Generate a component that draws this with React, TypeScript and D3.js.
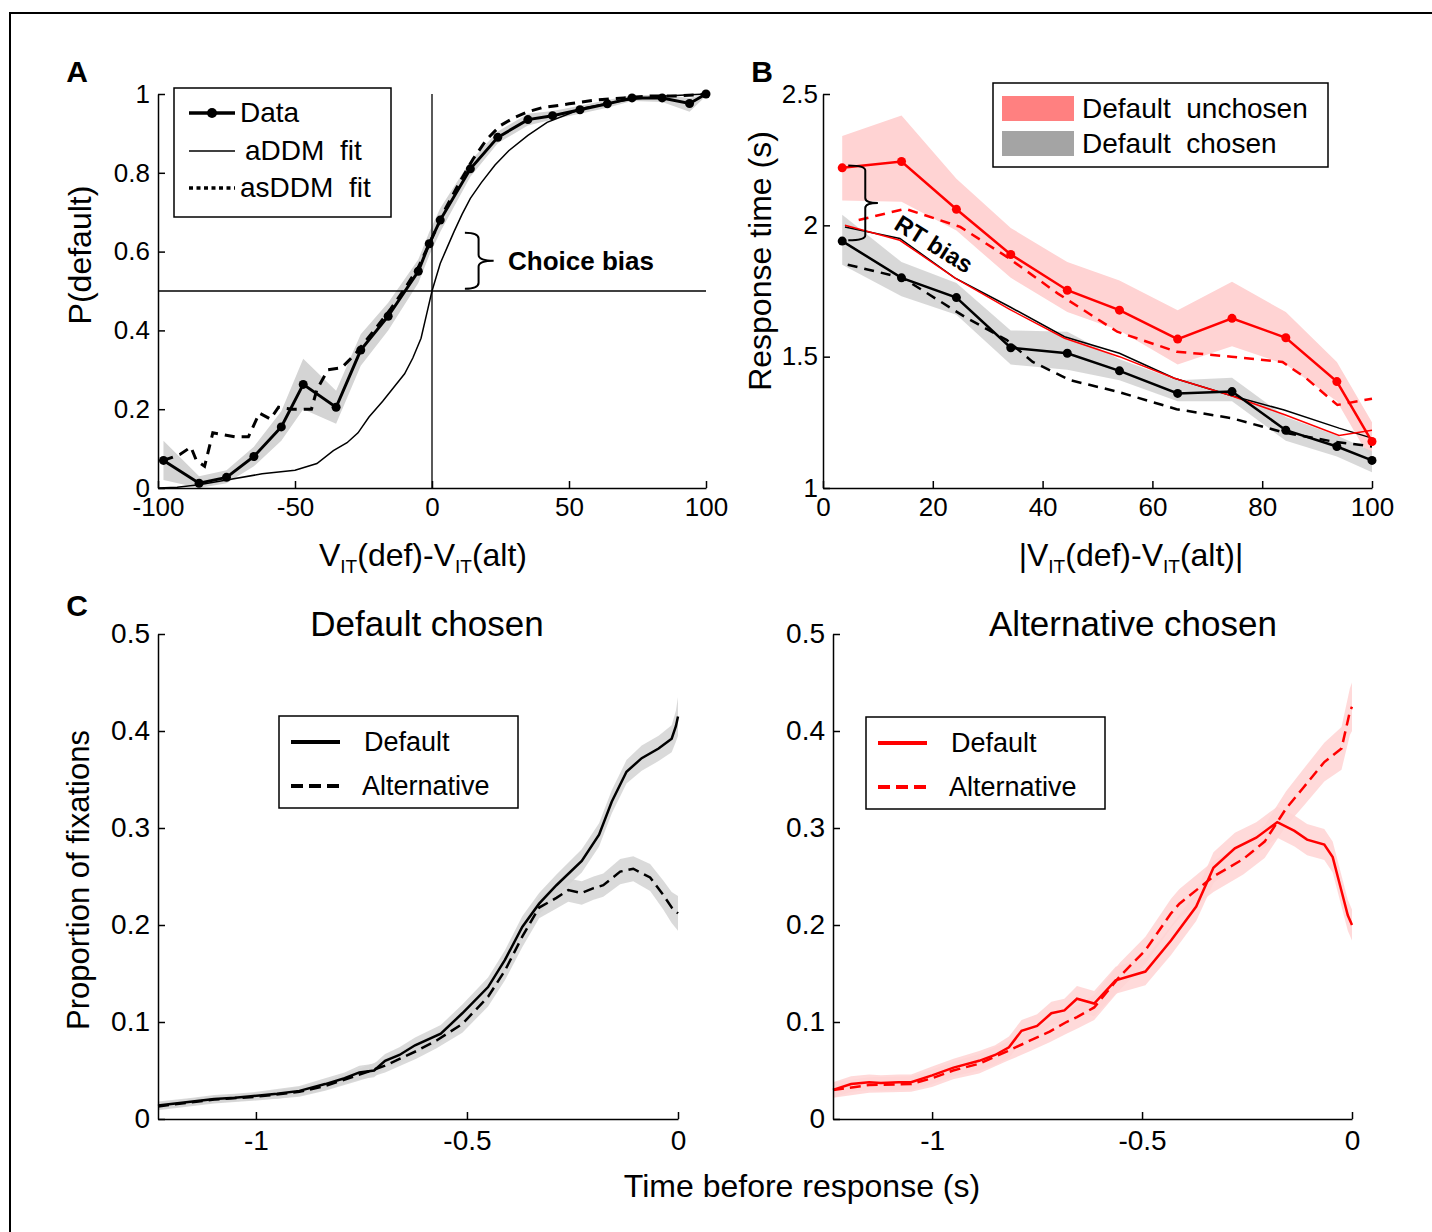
import { useEffect, useRef } from 'react';
import * as d3 from 'd3';

const FONT = '"Liberation Sans", Arial, Helvetica, sans-serif';

// ---------- Panel A: P(default) vs value difference ----------
const aTicksX = [-100, -50, 0, 50, 100];
const aTicksY = [0, 0.2, 0.4, 0.6, 0.8, 1];
const aDataX = [-98, -85, -75, -65, -55, -47, -35, -26, -16, -5, -1, 3, 14, 24, 35, 44, 54, 64, 73, 84, 94, 100];
const aDataY = [0.07, 0.012, 0.027, 0.08, 0.155, 0.263, 0.205, 0.35, 0.436, 0.55, 0.62, 0.68, 0.81, 0.89, 0.935, 0.945, 0.96, 0.975, 0.99, 0.99, 0.976, 1.0];
const aDataLo = [0.02, 0.0, 0.012, 0.055, 0.12, 0.2, 0.163, 0.31, 0.4, 0.52, 0.59, 0.65, 0.79, 0.875, 0.92, 0.935, 0.95, 0.965, 0.982, 0.98, 0.955, 0.995];
const aDataHi = [0.12, 0.03, 0.045, 0.105, 0.195, 0.328, 0.247, 0.39, 0.47, 0.58, 0.65, 0.71, 0.83, 0.905, 0.95, 0.957, 0.97, 0.985, 0.997, 0.998, 0.99, 1.0];
const aFitX = [-100, -93, -85, -76, -62, -50, -42, -36, -31, -27, -23, -18, -14, -10, -7, -4, -2, 0, 1.5, 3, 5.5, 8, 11, 14, 18, 23, 28, 35, 42, 50, 56, 65, 75, 85, 100];
const aFitY = [0, 0.002, 0.008, 0.019, 0.036, 0.045, 0.062, 0.095, 0.115, 0.14, 0.18, 0.22, 0.255, 0.29, 0.33, 0.38, 0.44, 0.5, 0.535, 0.57, 0.61, 0.65, 0.695, 0.735, 0.775, 0.82, 0.856, 0.895, 0.928, 0.95, 0.966, 0.978, 0.988, 0.995, 1.0];
const asFitX = [-98, -92, -88, -86, -83, -80, -72, -67, -63, -59, -56, -51, -44, -42, -38, -33, -28, -24, -20, -15, -10, -5, 0, 5, 10, 15, 20, 25, 30, 35, 40, 50, 60, 70, 80, 90, 100];
const asFitY = [0.07, 0.085, 0.104, 0.07, 0.055, 0.14, 0.13, 0.13, 0.19, 0.175, 0.205, 0.2, 0.2, 0.25, 0.3, 0.305, 0.34, 0.375, 0.41, 0.455, 0.505, 0.56, 0.635, 0.71, 0.775, 0.835, 0.885, 0.92, 0.94, 0.955, 0.965, 0.975, 0.985, 0.99, 0.995, 0.995, 1.0];

// ---------- Panel B: response times ----------
const bTicksX = [0, 20, 40, 60, 80, 100];
const bTicksY = [1, 1.5, 2, 2.5];
const bBins = [3.5, 14.3, 24.3, 34.2, 44.5, 54, 64.6, 74.5, 84.3, 93.6, 100];
const bChosen = [1.94, 1.80, 1.725, 1.534, 1.513, 1.446, 1.36, 1.367, 1.22, 1.158, 1.105];
const bChosenLo = [1.85, 1.73, 1.66, 1.47, 1.45, 1.41, 1.33, 1.33, 1.18, 1.12, 1.06];
const bChosenHi = [2.04, 1.86, 1.78, 1.60, 1.595, 1.49, 1.41, 1.42, 1.27, 1.20, 1.14];
const bUnchosen = [2.219, 2.243, 2.061, 1.889, 1.753, 1.677, 1.567, 1.646, 1.572, 1.405, 1.177];
const bUnchosenLo = [2.095, 2.09, 1.98, 1.80, 1.67, 1.60, 1.47, 1.54, 1.47, 1.33, 1.10];
const bUnchosenHi = [2.34, 2.418, 2.177, 1.99, 1.86, 1.79, 1.677, 1.785, 1.67, 1.48, 1.25];
const bFitX = [4, 14, 24, 34, 44, 54, 64, 74, 84, 94, 100];
const bFitChosen = [1.994, 1.95, 1.80, 1.69, 1.576, 1.513, 1.418, 1.354, 1.297, 1.228, 1.19];
const bFitUnchosen = [2.0, 1.943, 1.80, 1.68, 1.57, 1.50, 1.418, 1.354, 1.28, 1.20, 1.22];
const bAsChosenX = [4.5, 14.5, 25.8, 33.5, 38.2, 45.1, 53.6, 64.4, 74.4, 84.4, 92.9, 100];
const bAsChosenY = [1.85, 1.80, 1.652, 1.563, 1.48, 1.41, 1.367, 1.30, 1.266, 1.209, 1.177, 1.158];
const bAsUnchosenX = [6.5, 15, 25, 33.5, 42.8, 53.6, 64.4, 74.4, 83.7, 88, 93.7, 100];
const bAsUnchosenY = [2.02, 2.063, 1.994, 1.88, 1.74, 1.595, 1.519, 1.50, 1.48, 1.418, 1.316, 1.34];

// ---------- Panel C: fixation time courses ----------
const cTicksX = [-1, -0.5, 0];
const cTicksY = [0, 0.1, 0.2, 0.3, 0.4, 0.5];
const cLeftDefX = [-1.232, -1.15, -1.099, -1.05, -0.998, -0.95, -0.897, -0.836, -0.79, -0.755, -0.72, -0.694, -0.66, -0.623, -0.562, -0.511, -0.45, -0.41, -0.369, -0.329, -0.288, -0.228, -0.187, -0.157, -0.122, -0.086, -0.046, -0.015, -0.005, 0];
const cLeftDefY = [0.014, 0.018, 0.0207, 0.022, 0.024, 0.026, 0.029, 0.036, 0.042, 0.048, 0.05, 0.06, 0.066, 0.076, 0.088, 0.109, 0.136, 0.164, 0.198, 0.222, 0.241, 0.266, 0.293, 0.327, 0.358, 0.372, 0.382, 0.392, 0.405, 0.415];
const cLeftDefSe = [0.004, 0.004, 0.004, 0.004, 0.004, 0.005, 0.005, 0.006, 0.006, 0.007, 0.007, 0.007, 0.008, 0.008, 0.009, 0.009, 0.01, 0.01, 0.011, 0.011, 0.011, 0.012, 0.012, 0.012, 0.012, 0.013, 0.013, 0.014, 0.016, 0.02];
const cLeftAltX = [-1.232, -1.099, -0.998, -0.897, -0.836, -0.76, -0.694, -0.62, -0.572, -0.511, -0.45, -0.41, -0.369, -0.329, -0.288, -0.26, -0.228, -0.2, -0.177, -0.137, -0.106, -0.066, -0.035, -0.015, 0];
const cLeftAltY = [0.013, 0.02, 0.023, 0.028, 0.034, 0.045, 0.055, 0.07, 0.081, 0.098, 0.126, 0.153, 0.188, 0.218, 0.228, 0.236, 0.233, 0.238, 0.241, 0.255, 0.258, 0.249, 0.231, 0.218, 0.212];
const cLeftAltSe = [0.004, 0.004, 0.004, 0.005, 0.005, 0.006, 0.007, 0.008, 0.008, 0.009, 0.01, 0.01, 0.011, 0.011, 0.011, 0.012, 0.012, 0.012, 0.012, 0.013, 0.013, 0.014, 0.015, 0.016, 0.018];
const cRightDefX = [-1.236, -1.193, -1.15, -1.122, -1.08, -1.05, -1.0, -0.949, -0.888, -0.85, -0.817, -0.787, -0.75, -0.716, -0.685, -0.655, -0.614, -0.563, -0.492, -0.431, -0.371, -0.33, -0.279, -0.228, -0.178, -0.137, -0.107, -0.066, -0.046, -0.025, -0.01, 0];
const cRightDefY = [0.03, 0.036, 0.038, 0.037, 0.038, 0.038, 0.045, 0.053, 0.06, 0.066, 0.074, 0.091, 0.096, 0.109, 0.112, 0.124, 0.119, 0.143, 0.152, 0.184, 0.219, 0.259, 0.279, 0.29, 0.306, 0.297, 0.288, 0.283, 0.27, 0.235, 0.21, 0.2];
const cRightDefSe = [0.008, 0.008, 0.008, 0.008, 0.008, 0.008, 0.009, 0.009, 0.01, 0.01, 0.011, 0.011, 0.012, 0.012, 0.012, 0.013, 0.013, 0.014, 0.014, 0.015, 0.015, 0.016, 0.016, 0.016, 0.016, 0.016, 0.016, 0.016, 0.016, 0.016, 0.016, 0.016];
const cRightAltX = [-1.236, -1.15, -1.05, -1.0, -0.95, -0.888, -0.82, -0.766, -0.72, -0.68, -0.655, -0.614, -0.553, -0.492, -0.431, -0.411, -0.33, -0.259, -0.208, -0.157, -0.117, -0.066, -0.025, -0.005, 0];
const cRightAltY = [0.03, 0.035, 0.036, 0.042, 0.05, 0.057, 0.07, 0.081, 0.09, 0.1, 0.105, 0.115, 0.147, 0.174, 0.212, 0.222, 0.25, 0.268, 0.286, 0.32, 0.341, 0.368, 0.382, 0.42, 0.425];
const cRightAltSe = [0.008, 0.008, 0.008, 0.009, 0.009, 0.01, 0.01, 0.011, 0.011, 0.012, 0.012, 0.013, 0.014, 0.014, 0.015, 0.015, 0.016, 0.016, 0.017, 0.018, 0.019, 0.02, 0.022, 0.024, 0.025];

const RED = '#ff0000';
const RED_BAND = '#ffd3d3';
const GREY_BAND = '#d4d4d4';

const App = () => {
  const svgRef = useRef<SVGSVGElement | null>(null);

  useEffect(() => {
    const svg = d3.select(svgRef.current);
    svg.selectAll('*').remove();
    svg.attr('width', 1432).attr('height', 1232).style('font-family', FONT);

    svg.append('rect').attr('width', 1432).attr('height', 1232).attr('fill', '#fff');
    // figure frame, only top and left edges are visible
    svg.append('path').attr('d', 'M10,1232 V13 H1432').attr('fill', 'none').attr('stroke', '#000').attr('stroke-width', 2);

    const lineOf = (xs: number[], ys: number[], x: any, y: any) =>
      d3.line<number>().x((_, i) => x(xs[i])).y(d => y(d))(ys);
    const bandOf = (xs: number[], lo: number[], hi: number[], x: any, y: any) =>
      d3.area<number>().x((_, i) => x(xs[i])).y0((_, i) => y(lo[i])).y1((_, i) => y(hi[i]))(xs);

    const drawAxes = (x: any, y: any, xTicks: number[], yTicks: number[], xPad: number, yPad: number, size: number) => {
      const gx = svg.append('g')
        .attr('transform', `translate(0,${y.range()[0]})`)
        .call(d3.axisBottom(x).tickValues(xTicks).tickFormat((d: any) => String(d)).tickSizeInner(-7).tickSizeOuter(0).tickPadding(xPad));
      const gy = svg.append('g')
        .attr('transform', `translate(${x.range()[0]},0)`)
        .call(d3.axisLeft(y).tickValues(yTicks).tickFormat((d: any) => String(d)).tickSizeInner(-7).tickSizeOuter(0).tickPadding(yPad));
      [gx, gy].forEach(g => {
        g.attr('font-size', size).attr('font-family', FONT);
        g.select('.domain').attr('stroke', '#000').attr('stroke-width', 1.5);
        g.selectAll('line').attr('stroke', '#000').attr('stroke-width', 1.5);
        g.selectAll('text').attr('fill', '#000');
      });
    };

    const label = (x: number, y: number, str: string, size: number, opts: any = {}) => {
      const t = svg.append('text')
        .attr('x', x).attr('y', y)
        .attr('dy', '0.35em')
        .attr('font-size', size)
        .attr('text-anchor', opts.anchor || 'middle')
        .attr('font-weight', opts.bold ? 'bold' : null)
        .attr('fill', '#000')
        .attr('xml:space', 'preserve')
        .style('white-space', 'pre')
        .text(str);
      if (opts.rotate) t.attr('transform', `rotate(${opts.rotate},${x},${y})`);
      return t;
    };

    // x-label with subscripts: V_IT(def)-V_IT(alt)
    const subLabel = (x: number, y: number, bars: boolean) => {
      const t = svg.append('text').attr('x', x).attr('y', y).attr('font-size', 32).attr('text-anchor', 'middle').attr('fill', '#000');
      t.append('tspan').text(bars ? '|V' : 'V');
      t.append('tspan').attr('font-size', 19).attr('dy', 7).text('IT');
      t.append('tspan').attr('dy', -7).text('(def)-V');
      t.append('tspan').attr('font-size', 19).attr('dy', 7).text('IT');
      t.append('tspan').attr('dy', -7).text(bars ? '(alt)|' : '(alt)');
    };

    const brace = (x0: number, x1: number, x2: number, yTop: number, yMid: number, yBot: number, r: number) =>
      `M${x0},${yTop} Q${x1},${yTop} ${x1},${yTop + r} L${x1},${yMid - r} Q${x1},${yMid} ${x2},${yMid} ` +
      `Q${x1},${yMid} ${x1},${yMid + r} L${x1},${yBot - r} Q${x1},${yBot} ${x0},${yBot}`;

    // ================= Panel A =================
    const xA = d3.scaleLinear().domain([-100, 100]).range([158, 706]);
    const yA = d3.scaleLinear().domain([0, 1]).range([488, 94]);

    svg.append('path').attr('d', bandOf(aDataX, aDataLo, aDataHi, xA, yA)).attr('fill', GREY_BAND);
    // reference lines
    svg.append('line').attr('x1', xA(-100)).attr('x2', xA(100)).attr('y1', yA(0.5)).attr('y2', yA(0.5)).attr('stroke', '#000').attr('stroke-width', 1.3);
    svg.append('line').attr('x1', xA(0)).attr('x2', xA(0)).attr('y1', yA(0)).attr('y2', yA(1)).attr('stroke', '#000').attr('stroke-width', 1.3);

    svg.append('path').attr('d', lineOf(aFitX, aFitY, xA, yA)).attr('fill', 'none').attr('stroke', '#000').attr('stroke-width', 1.5);
    svg.append('path').attr('d', lineOf(asFitX, asFitY, xA, yA)).attr('fill', 'none').attr('stroke', '#000').attr('stroke-width', 3).attr('stroke-dasharray', '10,7');
    svg.append('path').attr('d', lineOf(aDataX, aDataY, xA, yA)).attr('fill', 'none').attr('stroke', '#000').attr('stroke-width', 3);
    svg.append('g').selectAll('circle').data(aDataY).enter().append('circle')
      .attr('cx', (_, i) => xA(aDataX[i])).attr('cy', d => yA(d)).attr('r', 4.5).attr('fill', '#000');

    drawAxes(xA, yA, aTicksX, aTicksY, 10, 8, 26);

    // choice bias annotation
    svg.append('path').attr('d', brace(xA(12), xA(17), xA(22.5), yA(0.648), yA(0.577), yA(0.506), 6))
      .attr('fill', 'none').attr('stroke', '#000').attr('stroke-width', 2);
    label(508, 261, 'Choice bias', 26, { anchor: 'start', bold: true });

    // legend A
    svg.append('rect').attr('x', 174).attr('y', 88).attr('width', 217).attr('height', 129).attr('fill', '#fff').attr('stroke', '#000').attr('stroke-width', 1.5);
    svg.append('line').attr('x1', 189).attr('x2', 235).attr('y1', 113).attr('y2', 113).attr('stroke', '#000').attr('stroke-width', 3.5);
    svg.append('circle').attr('cx', 212).attr('cy', 113).attr('r', 5).attr('fill', '#000');
    svg.append('line').attr('x1', 189).attr('x2', 235).attr('y1', 151).attr('y2', 151).attr('stroke', '#000').attr('stroke-width', 1.5);
    svg.append('line').attr('x1', 189).attr('x2', 235).attr('y1', 188).attr('y2', 188).attr('stroke', '#000').attr('stroke-width', 3.5).attr('stroke-dasharray', '4,3.5');
    label(240, 112, 'Data', 28, { anchor: 'start' });
    label(245, 150, 'aDDM  fit', 28, { anchor: 'start' });
    label(240, 187, 'asDDM  fit', 28, { anchor: 'start' });

    label(77, 71, 'A', 30, { bold: true });
    label(80, 255, 'P(default)', 32, { rotate: -90 });
    subLabel(423, 566, false);

    // ================= Panel B =================
    const xB = d3.scaleLinear().domain([0, 100]).range([823, 1372]);
    const yB = d3.scaleLinear().domain([1, 2.5]).range([488, 94]);

    svg.append('path').attr('d', bandOf(bBins, bUnchosenLo, bUnchosenHi, xB, yB)).attr('fill', RED_BAND);
    svg.append('path').attr('d', bandOf(bBins, bChosenLo, bChosenHi, xB, yB)).attr('fill', GREY_BAND).attr('opacity', 0.9);

    svg.append('path').attr('d', lineOf(bFitX, bFitChosen, xB, yB)).attr('fill', 'none').attr('stroke', '#000').attr('stroke-width', 1.5);
    svg.append('path').attr('d', lineOf(bFitX, bFitUnchosen, xB, yB)).attr('fill', 'none').attr('stroke', RED).attr('stroke-width', 1.5);
    svg.append('path').attr('d', lineOf(bAsChosenX, bAsChosenY, xB, yB)).attr('fill', 'none').attr('stroke', '#000').attr('stroke-width', 2.5).attr('stroke-dasharray', '10,7');
    svg.append('path').attr('d', lineOf(bAsUnchosenX, bAsUnchosenY, xB, yB)).attr('fill', 'none').attr('stroke', RED).attr('stroke-width', 2.5).attr('stroke-dasharray', '10,7');
    svg.append('path').attr('d', lineOf(bBins, bChosen, xB, yB)).attr('fill', 'none').attr('stroke', '#000').attr('stroke-width', 2.5);
    svg.append('path').attr('d', lineOf(bBins, bUnchosen, xB, yB)).attr('fill', 'none').attr('stroke', RED).attr('stroke-width', 2.5);
    svg.append('g').selectAll('circle').data(bChosen).enter().append('circle')
      .attr('cx', (_, i) => xB(bBins[i])).attr('cy', d => yB(d)).attr('r', 4.5).attr('fill', '#000');
    svg.append('g').selectAll('circle').data(bUnchosen).enter().append('circle')
      .attr('cx', (_, i) => xB(bBins[i])).attr('cy', d => yB(d)).attr('r', 4.5).attr('fill', RED);

    drawAxes(xB, yB, bTicksX, bTicksY, 10, 5, 26);

    // RT bias annotation
    svg.append('path').attr('d', brace(xB(4.6), xB(7.7), xB(10), yB(2.228), yB(2.085), yB(1.943), 5))
      .attr('fill', 'none').attr('stroke', '#000').attr('stroke-width', 2);
    label(934, 244, 'RT bias', 24, { bold: true, rotate: 32 });

    // legend B
    svg.append('rect').attr('x', 993).attr('y', 83).attr('width', 335).attr('height', 84).attr('fill', '#fff').attr('stroke', '#000').attr('stroke-width', 1.5);
    svg.append('rect').attr('x', 1002).attr('y', 96).attr('width', 72).attr('height', 25).attr('fill', '#ff8080');
    svg.append('rect').attr('x', 1002).attr('y', 131).attr('width', 72).attr('height', 25).attr('fill', '#a4a4a4');
    label(1082, 108, 'Default  unchosen', 28, { anchor: 'start' });
    label(1082, 143, 'Default  chosen', 28, { anchor: 'start' });

    label(762, 71, 'B', 30, { bold: true });
    label(760, 261, 'Response time (s)', 32, { rotate: -90 });
    subLabel(1131, 566, true);

    // ================= Panel C =================
    const yC = d3.scaleLinear().domain([0, 0.5]).range([1119, 634]);
    const xCL = d3.scaleLinear().domain([-1.232, 0]).range([158, 678]);
    const xCR = d3.scaleLinear().domain([-1.236, 0]).range([833, 1352]);

    const seBand = (xs: number[], ys: number[], se: number[], x: any) =>
      bandOf(xs, ys.map((v, i) => v - se[i]), ys.map((v, i) => v + se[i]), x, yC);

    svg.append('path').attr('d', seBand(cLeftAltX, cLeftAltY, cLeftAltSe, xCL)).attr('fill', GREY_BAND).attr('opacity', 0.85);
    svg.append('path').attr('d', seBand(cLeftDefX, cLeftDefY, cLeftDefSe, xCL)).attr('fill', GREY_BAND).attr('opacity', 0.85);
    svg.append('path').attr('d', lineOf(cLeftAltX, cLeftAltY, xCL, yC)).attr('fill', 'none').attr('stroke', '#000').attr('stroke-width', 2.5).attr('stroke-dasharray', '11,6');
    svg.append('path').attr('d', lineOf(cLeftDefX, cLeftDefY, xCL, yC)).attr('fill', 'none').attr('stroke', '#000').attr('stroke-width', 2.5);

    svg.append('path').attr('d', seBand(cRightAltX, cRightAltY, cRightAltSe, xCR)).attr('fill', RED_BAND).attr('opacity', 0.85);
    svg.append('path').attr('d', seBand(cRightDefX, cRightDefY, cRightDefSe, xCR)).attr('fill', RED_BAND).attr('opacity', 0.85);
    svg.append('path').attr('d', lineOf(cRightAltX, cRightAltY, xCR, yC)).attr('fill', 'none').attr('stroke', RED).attr('stroke-width', 2.5).attr('stroke-dasharray', '11,6');
    svg.append('path').attr('d', lineOf(cRightDefX, cRightDefY, xCR, yC)).attr('fill', 'none').attr('stroke', RED).attr('stroke-width', 2.5);

    drawAxes(xCL, yC, cTicksX, cTicksY, 11, 8, 28);
    drawAxes(xCR, yC, cTicksX, cTicksY, 11, 8, 28);

    // legends C
    const legendC = (x: number, y: number, color: string) => {
      svg.append('rect').attr('x', x).attr('y', y).attr('width', 239).attr('height', 92).attr('fill', '#fff').attr('stroke', '#000').attr('stroke-width', 1.5);
      svg.append('line').attr('x1', x + 12).attr('x2', x + 61).attr('y1', y + 26).attr('y2', y + 26).attr('stroke', color).attr('stroke-width', 4);
      svg.append('line').attr('x1', x + 12).attr('x2', x + 61).attr('y1', y + 70).attr('y2', y + 70).attr('stroke', color).attr('stroke-width', 4).attr('stroke-dasharray', '12,6');
      label(x + 85, y + 26, 'Default', 27, { anchor: 'start' });
      label(x + 83, y + 70, 'Alternative', 27, { anchor: 'start' });
    };
    legendC(279, 716, '#000');
    legendC(866, 717, RED);

    label(427, 624, 'Default chosen', 35);
    label(1133, 624, 'Alternative chosen', 35);
    label(77, 605, 'C', 30, { bold: true });
    label(78, 880, 'Proportion of fixations', 31, { rotate: -90 });
    label(802, 1186, 'Time before response (s)', 32);
  }, []);

  return <svg ref={svgRef} style={{ position: 'absolute', left: 0, top: 0, display: 'block' }} />;
};

export default App;
